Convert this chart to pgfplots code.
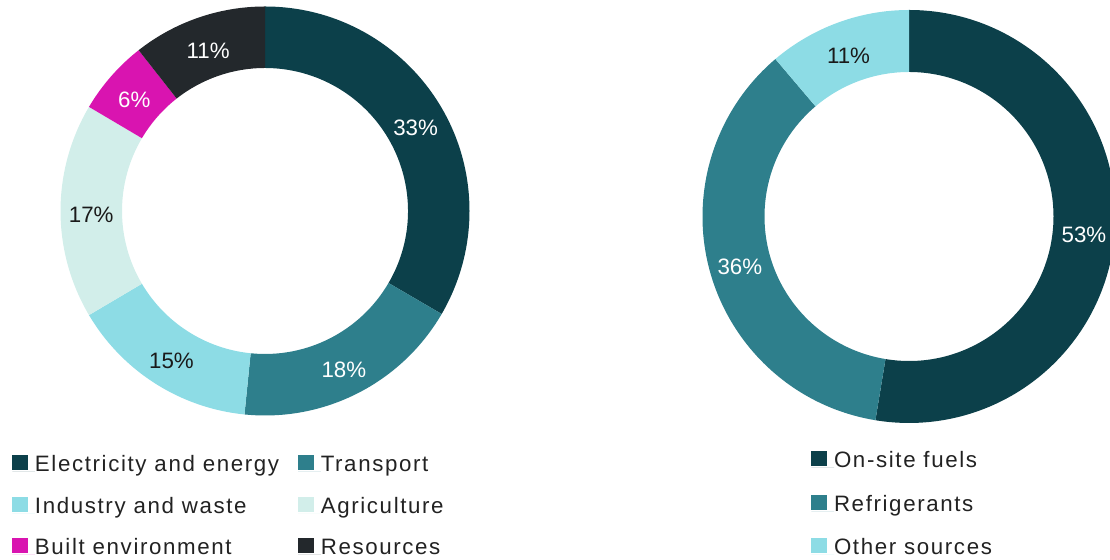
\documentclass[border=0pt]{standalone}
\usepackage{fontspec}
\setmainfont{Liberation Sans}
\newfontfamily\legfont[LetterSpace=7.3]{Liberation Sans}
\usepackage{pgfplots}
\pgfplotsset{compat=1.18}
\definecolor{cA}{HTML}{0C404A}
\definecolor{cB}{HTML}{2E7F8C}
\definecolor{cC}{HTML}{8DDCE5}
\definecolor{cD}{HTML}{D2EEEA}
\definecolor{cE}{HTML}{D914B0}
\definecolor{cF}{HTML}{23282C}
\definecolor{labdark}{HTML}{1A1A1A}
\definecolor{legtext}{HTML}{222222}
\newcommand\lab{\fontsize{11.15}{13}\selectfont}
\newcommand\legf{\legfont\fontsize{11.15}{13}\selectfont}
% draw a donut: center x, center y (px, y negative down), outer R, inner r,
% list of share/label/colour/text colour (shares in percent, clockwise from top)
\newcommand\donut[5]{%
  \def\cum{0}%
  \pgfmathsetmacro\midr{(#3+#4)/2}%
  \pgfmathsetmacro\Rpt{#3*0.5}%
  \pgfmathsetmacro\rpt{#4*0.5}%
  \foreach \v/\l/\col/\tc in {#5}{%
    \pgfmathsetmacro\aS{90-3.6*\cum}%
    \pgfmathsetmacro\aE{90-3.6*(\cum+\v)}%
    \pgfmathsetmacro\aM{(\aS+\aE)/2}%
    \pgfmathsetmacro\xo{#1+#3*cos(\aS)}%
    \pgfmathsetmacro\yo{#2+#3*sin(\aS)}%
    \pgfmathsetmacro\xi{#1+#4*cos(\aE)}%
    \pgfmathsetmacro\yi{#2+#4*sin(\aE)}%
    \pgfmathsetmacro\xm{#1+\midr*cos(\aM)}%
    \pgfmathsetmacro\ym{#2+\midr*sin(\aM)}%
    \edef\temp{\noexpand\fill[\col] (axis cs:\xo,\yo) arc[start angle=\aS, end angle=\aE, radius=\Rpt pt] -- (axis cs:\xi,\yi) arc[start angle=\aE, end angle=\aS, radius=\rpt pt] -- cycle;
      \noexpand\node[text=\tc, font=\noexpand\lab, inner sep=0pt, yshift=-1.8pt] at (axis cs:\xm,\ym) {\l\noexpand\%};}%
    \temp
    \pgfmathsetmacro\nc{\cum+\v}%
    \xdef\cum{\nc}%
  }%
}
\pgfplotsset{
  frame/.style={x=0.5pt, y=0.5pt, xmin=0, xmax=1110, ymin=-560, ymax=0,
    hide axis, scale only axis, clip=true, at={(0,0)}, anchor=south west,
    legend cell align=left,
    legend image code/.code={\fill[##1] (0pt,0.85pt) rectangle (7.8pt,8.3pt); \path (0pt,0pt) -- (11.3pt,0pt);},
  },
}
\begin{document}
\begin{tikzpicture}
\begin{axis}[frame, legend columns=2,
  legend style={draw=none, fill=none, inner sep=0pt, column sep=0pt, row sep=11.0pt,
    at={(axis description cs:0.01081,0.18804)}, anchor=north west,
    font=\legf, text=legtext,
    nodes={inner sep=0pt, anchor=base west}}]
\donut{265}{-211}{204.5}{143}{33.4/33/cA/white,18.2/18/cB/white,14.9/15/cC/labdark,17.0/17/cD/labdark,5.9/6/cE/white,10.6/11/cF/white}
\addlegendimage{fill=cA, draw=none}\addlegendentry{\makebox[131.6pt][l]{Electricity and energy}}
\addlegendimage{fill=cB, draw=none}\addlegendentry{Transport}
\addlegendimage{fill=cC, draw=none}\addlegendentry{Industry and waste}
\addlegendimage{fill=cD, draw=none}\addlegendentry{Agriculture}
\addlegendimage{fill=cE, draw=none}\addlegendentry{Built environment}
\addlegendimage{fill=cF, draw=none}\addlegendentry{Resources}
\end{axis}
\begin{axis}[frame, legend columns=1,
  legend style={draw=none, fill=none, inner sep=0pt, column sep=0pt, row sep=11.9pt,
    at={(axis description cs:0.73063,0.19464)}, anchor=north west,
    font=\legf, text=legtext,
    nodes={inner sep=0pt, anchor=base west}}]
\donut{909}{-216.5}{206.5}{144.5}{52.6/53/cA/white,36.2/36/cB/white,11.2/11/cC/labdark}
\addlegendimage{fill=cA, draw=none}\addlegendentry{On-site fuels}
\addlegendimage{fill=cB, draw=none}\addlegendentry{Refrigerants}
\addlegendimage{fill=cC, draw=none}\addlegendentry{Other sources}
\end{axis}
\pgfresetboundingbox
\useasboundingbox (0,0) rectangle (555pt,280pt);
\end{tikzpicture}
\end{document}
